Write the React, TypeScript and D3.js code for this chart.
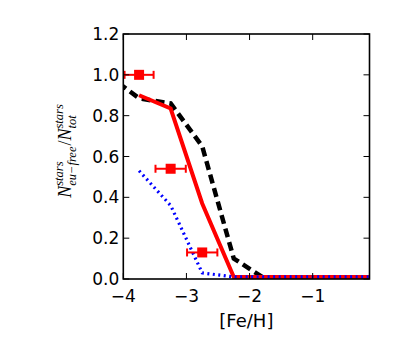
import { useEffect, useRef } from 'react';
import * as d3 from 'd3';

// [Fe/H] bin centres
const feh = [-4.25, -3.75, -3.25, -2.75, -2.25, -1.75, -1.25, -0.75, -0.25, 0.25];
// model curves (fraction of Eu-free stars)
const dashedBlack = [1.0, 0.885, 0.86, 0.65, 0.1, 0.0, 0.0, 0.0, 0.0, 0.0];
const solidRed = [null, 0.9, 0.835, 0.37, 0.01, 0.01, 0.01, 0.01, 0.01, 0.01];
const dottedBlue = [null, 0.53, 0.36, 0.03, 0.01, 0.01, 0.01, 0.01, 0.01, 0.01];
// observed points
const obsFeh = [-3.75, -3.25, -2.75];
const obsFrac = [1.0, 0.54, 0.13];
const obsErr = [0.23, 0.24, 0.24];

const xTicks = [-4, -3, -2, -1];
const yTicks = [0, 0.2, 0.4, 0.6, 0.8, 1.0, 1.2];

const W = 409;
const H = 351;
const FONT = '"DejaVu Sans", sans-serif';

export default function App() {
  const labelRef = useRef<SVGGElement>(null);

  const x = d3.scaleLinear().domain([-4, -0.1]).range([123.3, 369.5]);
  const y = d3.scaleLinear().domain([0, 1.2]).range([279, 34]);
  const [x0, x1] = x.range();
  const [y0, y1] = y.range();

  const mkLine = (vals: (number | null)[]) =>
    d3.line<number>()
      .defined((_, i) => vals[i] != null)
      .x((d) => x(d))
      .y((_, i) => y(vals[i] as number))(feh) || '';

  // y label with stacked sub/superscripts, measured after mount
  useEffect(() => {
    const g = d3.select(labelRef.current);
    g.selectAll('*').remove();
    const main = 18, small = 12.5;
    const pieces = [
      { t: 'N', size: main },
      { sup: 'stars', sub: 'eu\u2212free' },
      { t: '/', size: main },
      { t: 'N', size: main },
      { sup: 'stars', sub: 'tot' },
    ];
    const nodes: { el: any; w: number }[] = [];
    pieces.forEach((p: any) => {
      if (p.t) {
        const el = g.append('text').attr('font-size', p.size)
          .attr('font-family', '"Liberation Serif", serif')
          .attr('font-style', p.t === '/' ? 'normal' : 'italic')
          .text(p.t);
        nodes.push({ el: [el], w: (el.node() as SVGTextElement).getComputedTextLength() });
      } else {
        const a = g.append('text').attr('font-size', small)
          .attr('font-family', '"Liberation Serif", serif').attr('font-style', 'italic')
          .attr('y', -8).text(p.sup);
        const b = g.append('text').attr('font-size', small)
          .attr('font-family', '"Liberation Serif", serif').attr('font-style', 'italic')
          .attr('y', 4.5).text(p.sub);
        const w = Math.max(
          (a.node() as SVGTextElement).getComputedTextLength(),
          (b.node() as SVGTextElement).getComputedTextLength()
        );
        nodes.push({ el: [a, b], w: w + 1 });
      }
    });
    const total = d3.sum(nodes, (n) => n.w);
    let cx = -total / 2;
    nodes.forEach((n) => {
      n.el.forEach((e: any) => e.attr('x', cx));
      cx += n.w;
    });
  }, []);

  return (
    <div style={{ position: 'fixed', left: 0, top: 0, width: W, height: H, background: '#fff' }}>
      <svg width={W} height={H} style={{ display: 'block' }}>
        <defs>
          <clipPath id="plotArea">
            <rect x={x0} y={y1} width={x1 - x0} height={y0 - y1} />
          </clipPath>
        </defs>

        <g clipPath="url(#plotArea)">
          <path d={mkLine(dashedBlack)} fill="none" stroke="#000" strokeWidth={4.5}
            strokeDasharray="9,5" />
          <path d={mkLine(solidRed)} fill="none" stroke="#ff0000" strokeWidth={4} />
          <path d={mkLine(dottedBlue)} fill="none" stroke="#0000ff" strokeWidth={3.2}
            strokeDasharray="2,3.5" />
        </g>

        {/* observed fractions */}
        {obsFeh.map((f, i) => {
          const cy = y(obsFrac[i]);
          const xa = x(f - obsErr[i]);
          const xb = x(f + obsErr[i]);
          return (
            <g key={i} stroke="#ff0000" strokeWidth={2}>
              <line x1={xa} x2={xb} y1={cy} y2={cy} />
              <line x1={xa} x2={xa} y1={cy - 4} y2={cy + 4} />
              <line x1={xb} x2={xb} y1={cy - 4} y2={cy + 4} />
              <rect x={x(f) - 5} y={cy - 5} width={10} height={10} fill="#ff0000" stroke="none" />
            </g>
          );
        })}

        {/* ticks, inward on all sides */}
        <g stroke="#000" strokeWidth={1}>
          {xTicks.map((t) => (
            <g key={'x' + t}>
              <line x1={x(t)} x2={x(t)} y1={y0} y2={y0 - 6} />
              <line x1={x(t)} x2={x(t)} y1={y1} y2={y1 + 6} />
            </g>
          ))}
          {yTicks.map((t) => (
            <g key={'y' + t}>
              <line x1={x0} x2={x0 + 6} y1={y(t)} y2={y(t)} />
              <line x1={x1} x2={x1 - 6} y1={y(t)} y2={y(t)} />
            </g>
          ))}
        </g>
        <rect x={x0} y={y1} width={x1 - x0} height={y0 - y1} fill="none" stroke="#000" strokeWidth={1.6} />

        {/* tick labels */}
        <g fontFamily={FONT} fontSize={17} fill="#000">
          {xTicks.map((t) => (
            <text key={'xl' + t} x={x(t)} y={302} textAnchor="middle">
              {t < 0 ? '\u2212' + Math.abs(t) : String(t)}
            </text>
          ))}
          {yTicks.map((t) => (
            <text key={'yl' + t} x={x0 - 4} y={y(t) + 6} textAnchor="end">
              {t.toFixed(1)}
            </text>
          ))}
          <text x={(x0 + x1) / 2} y={327} textAnchor="middle" fontSize={18}>[Fe/H]</text>
        </g>

        <g ref={labelRef} transform={`translate(71,${(y0 + y1) / 2 - 6}) rotate(-90)`} fill="#000" />
      </svg>
    </div>
  );
}
